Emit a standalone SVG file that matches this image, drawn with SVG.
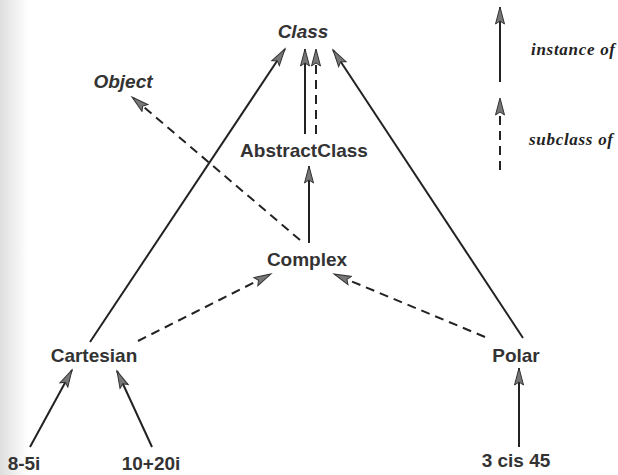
<svg xmlns="http://www.w3.org/2000/svg" width="618" height="475" viewBox="0 0 618 475">
<style>
.lbl{font-family:"Liberation Sans",Arial,sans-serif;font-weight:bold;font-size:19px;fill:#333;text-anchor:middle}
.it{font-style:italic}
.leg{font-family:"Liberation Serif","Times New Roman",serif;font-style:italic;font-weight:bold;font-size:17px;fill:#222}
.inst{stroke:#222;stroke-width:2;fill:none}
.sub{stroke:#222;stroke-width:2;fill:none;stroke-dasharray:9 6}
</style>
<defs>
<linearGradient id="edge" x1="0" y1="0" x2="1" y2="0">
<stop offset="0" stop-color="#dedede"/>
<stop offset="1" stop-color="#ffffff"/>
</linearGradient>
<marker id="ah" markerUnits="userSpaceOnUse" markerWidth="20" markerHeight="12" viewBox="0 0 20 12" refX="18" refY="6" orient="auto">
<path d="M1,1.5 L18,6 L1,10.5 L4,6 Z" fill="#777" stroke="#333" stroke-width="1" stroke-dasharray="none"/>
</marker>
</defs>
<rect x="0" y="0" width="618" height="475" fill="#fff"/>
<rect x="0" y="0" width="28" height="475" fill="url(#edge)"/>
<g id="connectors">
<line class="inst" x1="90" y1="342" x2="285" y2="49" marker-end="url(#ah)"/>
<line class="inst" x1="523" y1="338" x2="333" y2="50" marker-end="url(#ah)"/>
<line class="inst" x1="305" y1="134" x2="305" y2="49" marker-end="url(#ah)"/>
<line class="sub" x1="316" y1="134" x2="316" y2="49" marker-end="url(#ah)"/>
<line class="inst" x1="309" y1="243" x2="309" y2="166" marker-end="url(#ah)"/>
<line class="sub" x1="300" y1="240" x2="132" y2="97" marker-end="url(#ah)"/>
<line class="sub" x1="138" y1="341" x2="271" y2="274" marker-end="url(#ah)"/>
<line class="sub" x1="485" y1="337" x2="334" y2="274" marker-end="url(#ah)"/>
<line class="inst" x1="30" y1="447" x2="72" y2="370" marker-end="url(#ah)"/>
<line class="inst" x1="152" y1="447" x2="117" y2="371" marker-end="url(#ah)"/>
<line class="inst" x1="519" y1="447" x2="519" y2="368" marker-end="url(#ah)"/>
<line class="inst" x1="500" y1="82" x2="500" y2="7" marker-end="url(#ah)"/>
<line class="sub" x1="500" y1="170" x2="500" y2="98" marker-end="url(#ah)"/>
</g>
<g id="Class"><text class="lbl it" x="303" y="38">Class</text></g>
<g id="Object"><text class="lbl it" x="123" y="88">Object</text></g>
<g id="AbstractClass"><text class="lbl" x="304" y="157">AbstractClass</text></g>
<g id="Complex"><text class="lbl" x="307" y="266">Complex</text></g>
<g id="Cartesian"><text class="lbl" x="94" y="362">Cartesian</text></g>
<g id="Polar"><text class="lbl" x="516" y="362">Polar</text></g>
<g id="n85i"><text class="lbl" x="24" y="470">8-5i</text></g>
<g id="n1020i"><text class="lbl" x="151" y="470">10+20i</text></g>
<g id="n3cis45"><text class="lbl" x="516" y="467">3 cis 45</text></g>
<g id="legend">
<text class="leg" x="531" y="55" textLength="84" lengthAdjust="spacing">instance of</text>
<text class="leg" x="529" y="145" textLength="84" lengthAdjust="spacing">subclass of</text>
</g>
</svg>
